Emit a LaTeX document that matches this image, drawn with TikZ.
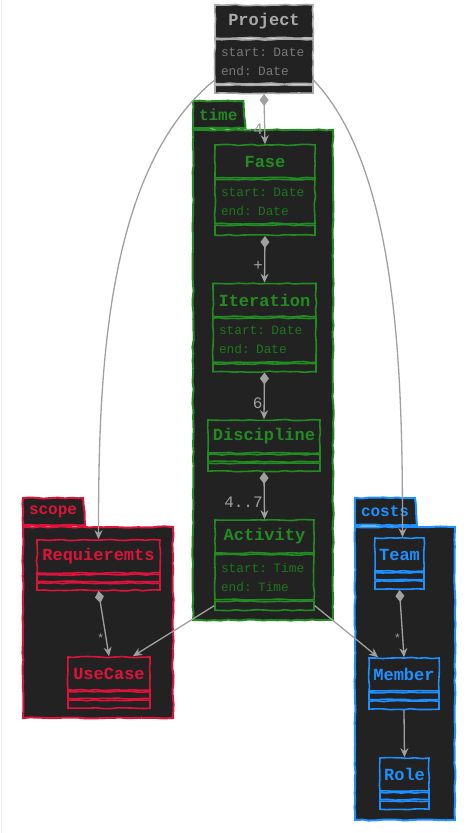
\documentclass[tikz,border=0pt]{standalone}
\usepackage{fontspec}
\setmonofont{Liberation Mono}
\setsansfont{Liberation Sans}
\usetikzlibrary{shapes.geometric,arrows.meta,positioning,decorations.pathmorphing}
\definecolor{boxbg}   {RGB}{ 34, 34, 34}
\definecolor{edgegray}{RGB}{160,160,160}
\definecolor{projcol} {RGB}{170,170,170}
\definecolor{projattr}{RGB}{140,140,140}
\definecolor{timecol} {RGB}{ 34,139, 34}
\definecolor{scopecol}{RGB}{220, 20, 60}
\definecolor{costcol} {RGB}{ 30,144,255}
\tikzset{
  sketchy/.style ={decorate,decoration={random steps,segment length=7pt,amplitude=0.6pt}},
  pkgbody/.style ={draw=#1,fill=boxbg,line width=2pt,sketchy,inner sep=0pt},
  pkgtab/.style  ={trapezium,trapezium left angle=90,trapezium right angle=80,
                   trapezium stretches=true,
                   anchor=bottom left corner,draw=#1,fill=boxbg,line width=2pt,sketchy,
                   text=#1,font=\ttfamily\bfseries\fontsize{16}{18}\selectfont,
                   inner xsep=6pt,inner ysep=0pt,minimum height=27pt},
  ctitle/.style  ={draw=#1,fill=boxbg,line width=1.6pt,sketchy,text=#1,
                   font=\ttfamily\bfseries\fontsize{17}{19}\selectfont,
                   minimum height=33pt,inner sep=0pt},
  cattr/.style   ={draw=#1,fill=boxbg,line width=1.6pt,sketchy,text=#1!85!black,
                   font=\ttfamily\fontsize{12.8}{19}\selectfont,align=left,
                   minimum height=44pt,inner xsep=6pt,inner ysep=0pt},
  cfoot/.style   ={draw=#1,fill=boxbg,line width=1.6pt,sketchy,
                   minimum height=8pt,inner sep=0pt},
  edge/.style    ={draw=edgegray,line width=1.3pt},
  comp/.style    ={edge,{Diamond[length=12pt,width=9pt]}-{Stealth[length=9pt,width=8pt]}},
  assoc/.style   ={edge,-{Stealth[length=9pt,width=8pt]}},
  mult/.style    ={font=\ttfamily\fontsize{16}{18}\selectfont,text=edgegray,inner sep=1pt},
}

\begin{document}
\begin{tikzpicture}[x=1pt,y=-1pt]
  \useasboundingbox (0,0) rectangle (468,833);
  \pgfmathsetseed{5}
  \draw[black!8,line width=1pt] (1,0) -- (1,833);

  % packages
  \node[pkgbody=timecol, minimum width=140pt,minimum height=490pt] (timepkg)  at (263,375) {};
  \node[pkgtab=timecol]  (timetab)  at (timepkg.north west)  {time};
  \node[pkgbody=scopecol,minimum width=150pt,minimum height=191pt] (scopepkg) at (98,622.5) {};
  \node[pkgtab=scopecol] (scopetab) at (scopepkg.north west) {scope};
  \node[pkgbody=costcol, minimum width=100pt,minimum height=293pt] (costpkg)  at (405,673.5) {};
  \node[pkgtab=costcol]  (costtab)  at (costpkg.north west)  {costs};

  % classes
  \node[ctitle=projcol,minimum width=98pt] (proj) at (264,21.5) {Project};
  \node[cattr=projattr,text width=86pt,draw=projcol,below=0pt of proj] (pattr) {start: Date\\end: Date};
  \node[cfoot=projcol,minimum width=98pt,below=0pt of pattr] (pfoot) {};

  \node[ctitle=timecol,minimum width=100pt] (fase) at (265,161.5) {Fase};
  \node[cattr=timecol,text width=88pt,below=0pt of fase] (fattr) {start: Date\\end: Date};
  \node[cfoot=timecol,minimum width=100pt,minimum height=10pt,below=0pt of fattr] (ffoot) {};

  \node[ctitle=timecol,minimum width=103pt] (iter) at (264.5,300) {Iteration};
  \node[cattr=timecol,text width=91pt,below=0pt of iter] (iattr) {start: Date\\end: Date};
  \node[cfoot=timecol,minimum width=103pt,below=0pt of iattr] (ifoot) {};

  \node[ctitle=timecol,minimum width=112pt] (disc) at (264,436.5) {Discipline};
  \node[cfoot=timecol,minimum width=112pt,minimum height=7pt,below=0pt of disc] (dfoota) {};
  \node[cfoot=timecol,minimum width=112pt,minimum height=8pt,below=0pt of dfoota] (dfootb) {};

  \node[ctitle=timecol,minimum width=99pt] (act) at (264.5,536.5) {Activity};
  \node[cattr=timecol,text width=87pt,minimum height=45pt,below=0pt of act] (aattr) {start: Time\\end: Time};
  \node[cfoot=timecol,minimum width=99pt,minimum height=9pt,below=0pt of aattr] (afoot) {};

  \node[ctitle=scopecol,minimum width=123pt] (req) at (98.5,556.5) {Requieremts};
  \node[cfoot=scopecol,minimum width=123pt,minimum height=7pt,below=0pt of req] (rfoota) {};
  \node[cfoot=scopecol,minimum width=123pt,minimum height=7pt,below=0pt of rfoota] (rfootb) {};

  \node[ctitle=scopecol,minimum width=82pt] (usec) at (109,673.5) {UseCase};
  \node[cfoot=scopecol,minimum width=82pt,minimum height=7pt,below=0pt of usec] (ufoota) {};
  \node[cfoot=scopecol,minimum width=82pt,minimum height=8pt,below=0pt of ufoota] (ufootb) {};

  \node[ctitle=costcol,minimum width=49pt] (team) at (399.5,554.5) {Team};
  \node[cfoot=costcol,minimum width=49pt,minimum height=7pt,below=0pt of team] (tfoota) {};
  \node[cfoot=costcol,minimum width=49pt,minimum height=8pt,below=0pt of tfoota] (tfootb) {};

  \node[ctitle=costcol,minimum width=70pt] (memb) at (404,674.5) {Member};
  \node[cfoot=costcol,minimum width=70pt,minimum height=7pt,below=0pt of memb] (mfoota) {};
  \node[cfoot=costcol,minimum width=70pt,minimum height=8pt,below=0pt of mfoota] (mfootb) {};

  \node[ctitle=costcol,minimum width=49pt] (role) at (404.5,774.5) {Role};
  \node[cfoot=costcol,minimum width=49pt,minimum height=7pt,below=0pt of role] (rofoota) {};
  \node[cfoot=costcol,minimum width=49pt,minimum height=8pt,below=0pt of rofoota] (rofootb) {};

  % connectors
  \draw[comp] (pfoot.south)  -- node[mult,pos=.7,left]{4}    (fase.north);
  \draw[comp] (ffoot.south)  -- node[mult,pos=.65,left]{+}   (iter.north);
  \draw[comp] (ifoot.south)  -- node[mult,pos=.65,left]{6}   (disc.north);
  \draw[comp] (dfootb.south) -- node[mult,pos=.65,left]{4..7} (act.north);
  \draw[comp] (rfootb.south) -- node[mult,pos=.72,left,font=\ttfamily\fontsize{12}{14}\selectfont]{*} (usec.north);
  \draw[comp] (tfootb.south) -- node[mult,pos=.72,left,font=\ttfamily\fontsize{12}{14}\selectfont]{*} (memb.north);
  \draw[assoc] (mfootb.south) -- (role.north);
  \draw[assoc] ([yshift=4pt]pattr.south west) .. controls +(-110,90) and +(0,-160) .. (req.north);
  \draw[assoc] ([yshift=4pt]pattr.south east) .. controls +(85,90) and +(0,-160) .. ([xshift=3pt]team.north);
  \draw[assoc] (afoot.west) -- ([xshift=24pt]usec.north);
  \draw[assoc] (afoot.east) -- ([xshift=-26pt]memb.north);
\end{tikzpicture}
\end{document}
